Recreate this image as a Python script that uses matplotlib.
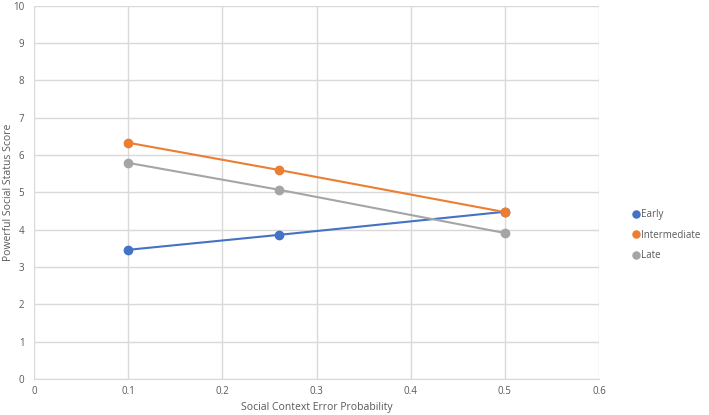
import matplotlib
matplotlib.use("Agg")
import matplotlib.pyplot as plt

x_vals = [0.1, 0.26, 0.5]
early = [3.46, 3.86, 4.48]
intermediate = [6.33, 5.60, 4.47]
late = [5.79, 5.07, 3.91]
series_names = ["Early", "Intermediate", "Late"]
colors = ["#4472C4", "#ED7D31", "#A5A5A5"]

plt.rcParams['font.family'] = ['Open Sans', 'DejaVu Sans']

fig = plt.figure(figsize=(7.09, 4.15), dpi=100)
ax = fig.add_axes([0.048, 0.087, 0.797, 0.899])

for vals, name, c in zip([early, intermediate, late], series_names, colors):
    ax.plot(x_vals, vals, color=c, lw=1.5, marker='o', ms=6,
            markeredgecolor=c, markerfacecolor=c, label=name, zorder=3)

ax.set_xlim(0, 0.6)
ax.set_ylim(0, 10)
ax.set_xticks([0, 0.1, 0.2, 0.3, 0.4, 0.5, 0.6])
ax.set_xticklabels(["0", "0.1", "0.2", "0.3", "0.4", "0.5", "0.6"])
ax.set_yticks(range(0, 11))
ax.grid(True, color="#D9D9D9", lw=1)
ax.set_axisbelow(True)
for s in ax.spines.values():
    s.set_visible(False)
ax.spines['bottom'].set_visible(True)
ax.spines['bottom'].set_color("#D9D9D9")
ax.tick_params(length=0, labelsize=7, labelcolor="#595959")
ax.tick_params(axis='x', pad=5)
ax.tick_params(axis='y', pad=7)
ax.set_xlabel("Social Context Error Probability", fontsize=7.5, color="#595959", va='center')
ax.xaxis.set_label_coords(0.5, -0.078)
ax.set_ylabel("Powerful Social Status Score", fontsize=7.5, color="#595959", va='center')
ax.yaxis.set_label_coords(-0.046, 0.5)

leg = ax.legend(loc='center left', bbox_to_anchor=(1.045, 0.385), frameon=False,
                fontsize=7, handlelength=0.5, handletextpad=0.3, labelspacing=1.0,
                markerscale=0.85)
for h in leg.get_lines():
    h.set_linestyle('none')
for t in leg.get_texts():
    t.set_color("#595959")

fig.savefig("out.png", dpi=100)
